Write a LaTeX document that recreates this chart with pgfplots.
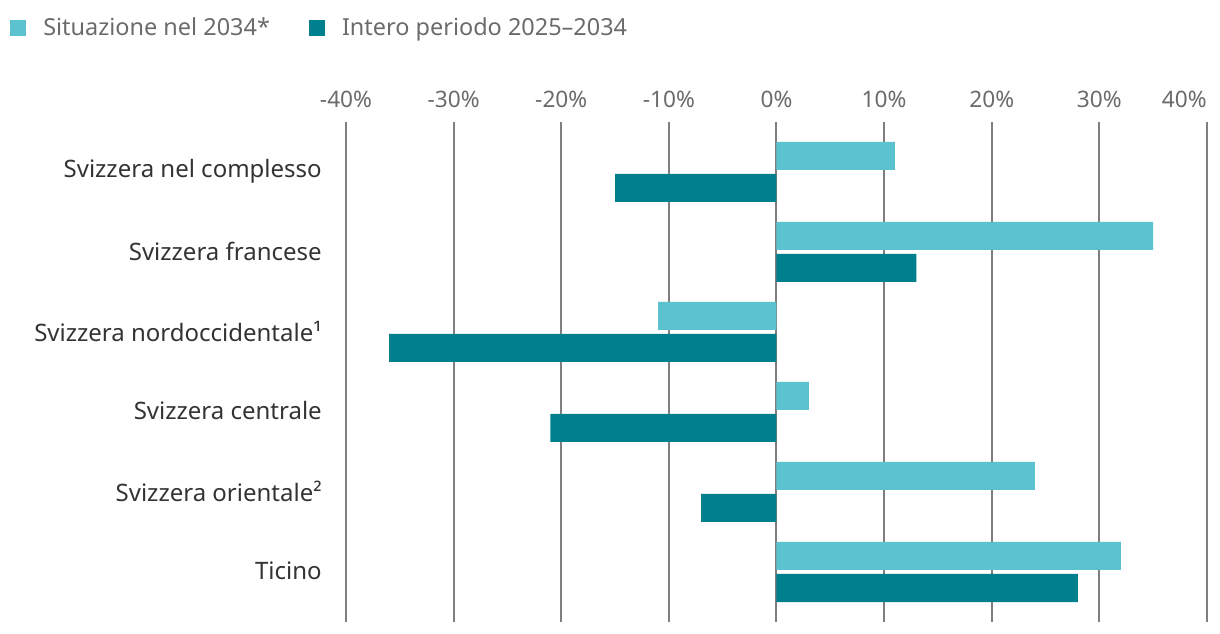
\documentclass[border=0pt]{standalone}
\usepackage{pgfplots}
\pgfplotsset{compat=1.18}
\usetikzlibrary{calc}
\usepackage{fontspec}
\setmainfont{Noto Sans}
\definecolor{lightteal}{HTML}{5BC3D0}
\definecolor{darkteal}{HTML}{007F8E}
\definecolor{gridgray}{HTML}{7F7F7F}
\definecolor{ticktext}{HTML}{6B6B6B}
\definecolor{labtext}{HTML}{333333}

\pgfplotstableread{
y val
6 11
5 35
4 -11
3 3
2 24
1 32
}\situazione
\pgfplotstableread{
y val
6 -15
5 13
4 -36
3 -21
2 -7
1 28
}\intero

\begin{document}
\begin{tikzpicture}
\begin{axis}[
    name=ax,
    scale only axis,
    width=645.75pt, height=375pt,
    xmin=-40, xmax=40, ymin=0.3625, ymax=6.6125,
    xbar, bar width=21pt,
    axis line style={draw=none},
    major tick length=0pt,
    xtick={-40,-30,...,30},
    xticklabels={-40\%,-30\%,-20\%,-10\%,0\%,10\%,20\%,30\%},
    extra x ticks={40},
    extra x tick labels={40\%},
    extra x tick style={xticklabel style={anchor=base east}},
    xticklabel pos=upper,
    xticklabel style={font=\fontsize{17}{20}\selectfont, text=ticktext, inner sep=0pt, anchor=base, yshift=10.5pt},
    ytick={1,...,6},
    yticklabels={Ticino, Svizzera orientale², Svizzera centrale, Svizzera nordoccidentale¹, Svizzera francese, Svizzera nel complesso},
    yticklabel style={font=\fontsize{18}{21}\selectfont, text=labtext, inner sep=0pt, anchor=east, xshift=-18pt},
    xmajorgrids, ymajorgrids=false,
    grid style={gridgray, line width=1.5pt},
    legend columns=2,
    legend style={draw=none, fill=none, inner sep=0pt, at={(-0.3902,1.188)}, anchor=west,
        font=\fontsize{17.6}{21}\selectfont, text=ticktext,
        nodes={inner sep=0pt},
        /tikz/every odd column/.append style={column sep=12.75pt},
        /tikz/every even column/.append style={column sep=29.25pt}},
    legend image code/.code={\fill[#1] (0pt,-6pt) rectangle (12pt,6pt);},
]
\addplot[fill=lightteal, draw=none, bar shift=11.25pt] table[x=val, y=y] {\situazione};
\addplot[fill=darkteal, draw=none, bar shift=-12.75pt] table[x=val, y=y] {\intero};
\legend{Situazione nel 2034*, Intero periodo 2025–2034}
\end{axis}
\path[use as bounding box] ($(ax.north west)+(-259.5pt,91.5pt)$) rectangle ++(915pt,-475.5pt);
\end{tikzpicture}
\end{document}
